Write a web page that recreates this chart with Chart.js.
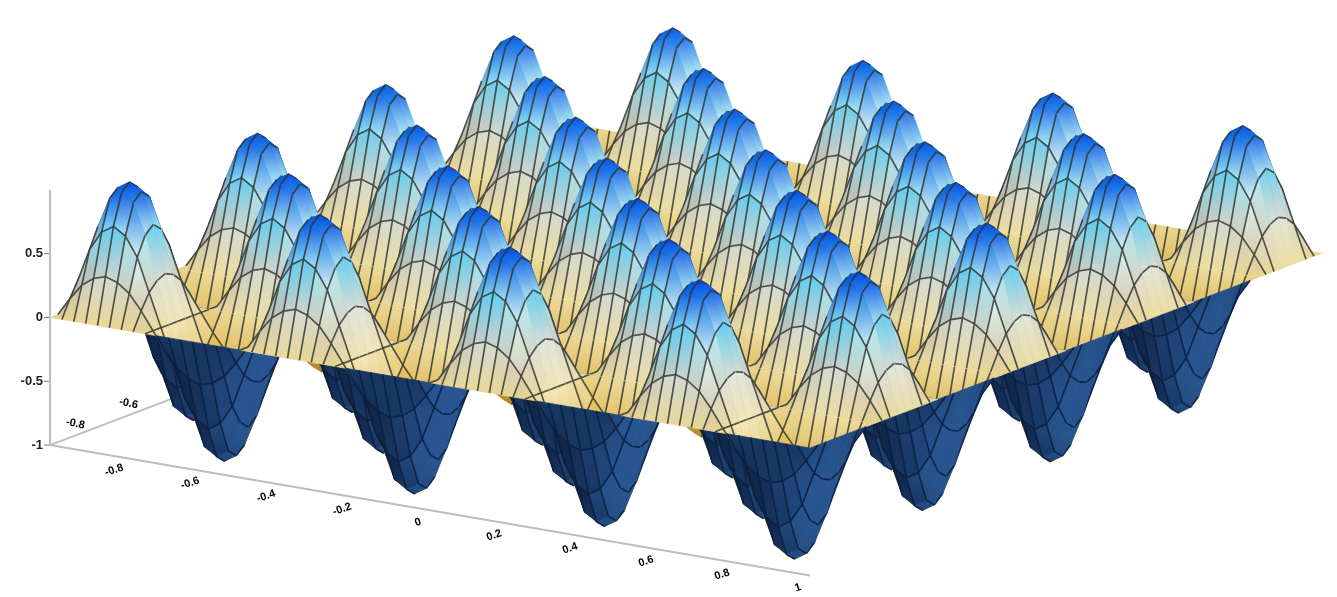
<!DOCTYPE html>
<html>
<head>
<meta charset="utf-8">
<title>Surface</title>
<script src="https://cdn.jsdelivr.net/npm/chart.js@4"></script>
<style>
    html, body { margin: 0; padding: 0; background: #fff; }
    #wrap { width: 1337px; height: 597px; }
    #surfaceChart { filter: blur(0.7px); }
</style>
</head>
<body>
<div id="wrap"><canvas id="surfaceChart" width="1337" height="597"></canvas></div>
<script>
// height of one hump (9 x 9 samples across one cell)
const humpHeights = [
    [0, 0, 0, 0, 0, 0, 0, 0, 0],
    [0, 0.14, 0.26, 0.33, 0.36, 0.33, 0.26, 0.14, 0],
    [0, 0.26, 0.52, 0.67, 0.73, 0.67, 0.52, 0.26, 0],
    [0, 0.33, 0.67, 0.91, 0.97, 0.91, 0.67, 0.33, 0],
    [0, 0.36, 0.73, 0.97, 1.03, 0.97, 0.73, 0.36, 0],
    [0, 0.33, 0.67, 0.91, 0.97, 0.91, 0.67, 0.33, 0],
    [0, 0.26, 0.52, 0.67, 0.73, 0.67, 0.52, 0.26, 0],
    [0, 0.14, 0.26, 0.33, 0.36, 0.33, 0.26, 0.14, 0],
    [0, 0, 0, 0, 0, 0, 0, 0, 0]
];
// which cells are peaks (1) and which are pits (-1)
const cellSigns = [
    [1, -1, 1, -1, 1, -1, 1, -1],
    [-1, 1, -1, 1, -1, 1, -1, 1],
    [1, -1, 1, -1, 1, -1, 1, -1],
    [-1, 1, -1, 1, -1, 1, -1, 1],
    [1, -1, 1, -1, 1, -1, 1, -1],
    [-1, 1, -1, 1, -1, 1, -1, 1],
    [1, -1, 1, -1, 1, -1, 1, -1],
    [-1, 1, -1, 1, -1, 1, -1, 1]
];
// sub steps inside a cell that carry an arch line
const archSteps = [1, 2, 6, 7];
const zTicks = [-1, -0.5, 0, 0.5];
const frontAxisLabels = ["-0.8", "-0.6", "-0.4", "-0.2", "0", "0.2", "0.4", "0.6", "0.8", "1"];
const sideAxisLabels = ["-0.8", "-0.6"];

const SUB = 8;
const CELLS = 8;
const N = CELLS * SUB;
// view used to lay the surface on the page: one cell along each floor axis, one unit of z
const ORIGIN = { x: 50, y: 318 };
const STEP_U = { x: 64, y: -25 };
const STEP_V = { x: 95, y: 16.75 };
const Z_PX = 131;

function heightAt(i, j) {
    // i, j in sub steps, shared borders are all 0 anyway
    i = Math.max(0, Math.min(N, i));
    j = Math.max(0, Math.min(N, j));
    const ci = Math.min(Math.floor(i / SUB), CELLS - 1);
    const cj = Math.min(Math.floor(j / SUB), CELLS - 1);
    return cellSigns[ci][cj] * humpHeights[i - ci * SUB][j - cj * SUB];
}

function project(i, j, z) {
    const u = i / SUB, v = j / SUB;
    return {
        x: ORIGIN.x + u * STEP_U.x + v * STEP_V.x,
        y: (u * STEP_U.y + v * STEP_V.y) / -Z_PX + z
    };
}

// colours by height, top side of the sheet
const topRamp = [
    [-1.1, [170, 120, 20]],
    [-0.5, [205, 150, 25]],
    [-0.15, [222, 175, 50]],
    [-0.03, [228, 192, 80]],
    [0.0, [232, 212, 140]],
    [0.12, [207, 192, 152]],
    [0.3, [190, 190, 180]],
    [0.45, [215, 235, 238]],
    [0.6, [170, 230, 245]],
    [0.72, [90, 205, 242]],
    [0.85, [25, 150, 235]],
    [0.93, [10, 110, 235]],
    [1.0, [5, 70, 225]]
];

function mix(a, b, t) {
    return [a[0] + (b[0] - a[0]) * t, a[1] + (b[1] - a[1]) * t, a[2] + (b[2] - a[2]) * t];
}

function topColour(i, j) {
    const z = heightAt(i, j);
    let c = topRamp[topRamp.length - 1][1];
    for (let k = 1; k < topRamp.length; k++) {
        if (z <= topRamp[k][0]) {
            c = mix(topRamp[k - 1][1], topRamp[k][1], (z - topRamp[k - 1][0]) / (topRamp[k][0] - topRamp[k - 1][0]));
            break;
        }
    }
    const slopeV = (heightAt(i, j + 1) - heightAt(i, j - 1)) * SUB / 2;
    const slopeU = (heightAt(i + 1, j) - heightAt(i - 1, j)) * SUB / 2;
    // left flanks are shaded, flanks facing the front right are lit
    const light = -slopeV * 0.15 + slopeU * 0.07;
    if (light > 0) {
        c = mix(c, [255, 255, 240], Math.min(light * (z > 0.7 ? 0.3 : 1), 0.6));
    } else {
        c = mix(c, [60, 75, 85], Math.min(-light, 0.45));
    }
    return 'rgb(' + c.map(Math.round).join(',') + ')';
}

function underColour(i, j) {
    const slopeV = (heightAt(i, j + 1) - heightAt(i, j - 1)) * SUB / 2;
    const t = Math.max(0, Math.min(1, 0.5 + slopeV * 0.3));
    const c = mix([8, 24, 52], [40, 85, 145], t);
    return 'rgb(' + c.map(Math.round).join(',') + ')';
}

function pixelY(y) {
    return ORIGIN.y - y * Z_PX;
}

const surfaceDatasets = [];
const gradientCtx = document.getElementById('surfaceChart').getContext('2d');

// back to front: far rows first, left to right inside a row
for (let i = N - 1; i >= 0; i--) {
    for (let j = 0; j < N; j++) {
        const corners = [[i, j], [i + 1, j], [i + 1, j + 1], [i, j + 1]];
        const p = corners.map(function (c) { return project(c[0], c[1], heightAt(c[0], c[1])); });
        // screen winding tells which side of the sheet we look at
        let area = 0;
        for (let k = 0; k < 4; k++) {
            const q = p[(k + 1) % 4];
            area += p[k].x * q.y - q.x * p[k].y;
        }
        const under = area > 0;
        if (under && i > 3 * SUB && j < 5 * SUB) continue;

        // vertical gradient from the highest corner to the lowest one
        let hi = 0, lo = 0;
        for (let k = 1; k < 4; k++) {
            if (p[k].y > p[hi].y) hi = k;
            if (p[k].y < p[lo].y) lo = k;
        }
        const colourOf = under ? underColour : topColour;
        const fill = gradientCtx.createLinearGradient(0, pixelY(p[hi].y), 0, pixelY(p[lo].y) + 0.01);
        fill.addColorStop(0, colourOf(corners[hi][0], corners[hi][1]));
        fill.addColorStop(1, colourOf(corners[lo][0], corners[lo][1]));
        surfaceDatasets.push({
            data: [p[0], p[1], p[2], p[3], p[0]],
            backgroundColor: fill,
            borderColor: fill,
            borderWidth: 0.7,
            fill: 'shape'
        });

        // mesh: every step across v, a few arches across u
        const line = [];
        if (j > 0) line.push(p[0], p[1]);
        if (i + 1 < N && archSteps.indexOf((i + 1) % SUB) >= 0) {
            if (!line.length) line.push(p[1]);
            line.push(p[2]);
        }
        if (line.length) {
            surfaceDatasets.push({
                data: line,
                borderColor: under ? 'rgba(10,30,62,0.85)' : 'rgba(46,50,46,0.8)',
                borderWidth: 1.7,
                fill: false
            });
        }
    }
}

// z axis and floor axes (z value of floor is -1)
const axisDatasets = [
    { data: [project(0, 0, -1), project(0, 0, 1)], borderColor: '#bdbdbd', borderWidth: 2, fill: false },
    { data: [project(0, 0, -1), project(0, N, -1)], borderColor: '#bdbdbd', borderWidth: 2, fill: false },
    { data: [project(0, 0, -1), project(16, 0, -1)], borderColor: '#bdbdbd', borderWidth: 2, fill: false }
];
zTicks.forEach(function (t) {
    axisDatasets.push({ data: [{ x: 44, y: t }, { x: 50, y: t }], borderColor: '#777', borderWidth: 1, fill: false });
});

const axisLabelPlugin = {
    id: 'axisLabels',
    afterDraw: function (chart) {
        const c = chart.ctx;
        const sx = chart.scales.x, sy = chart.scales.y;
        c.save();
        c.fillStyle = '#000';
        c.font = 'bold 11px "Liberation Sans"';
        c.textAlign = 'center';
        c.textBaseline = 'middle';
        frontAxisLabels.forEach(function (label, k) {
            const p = project(0, (k + 1) * N / 10, -1);
            c.save();
            c.translate(sx.getPixelForValue(p.x) - 12, sy.getPixelForValue(p.y) + 12);
            c.rotate(-0.32);
            c.fillText(label, 0, 0);
            c.restore();
        });
        sideAxisLabels.forEach(function (label, k) {
            const p = project((k + 1) * 16 / 2.4, 0, -1);
            c.save();
            c.translate(sx.getPixelForValue(p.x) - 28, sy.getPixelForValue(p.y) - 1);
            c.rotate(0.2);
            c.fillText(label, 0, 0);
            c.restore();
        });
        c.restore();
    }
};

document.addEventListener("DOMContentLoaded", function () {
    const ctxSurface = document.getElementById('surfaceChart');
    // the first dataset is painted last, so the list goes front to back and the axes come last
    new Chart(ctxSurface, {
        type: 'scatter',
        data: { datasets: surfaceDatasets.slice().reverse().concat(axisDatasets) },
        options: {
            responsive: false,
            animation: false,
            events: [],
            parsing: false,
            normalized: true,
            showLine: true,
            layout: { padding: 0 },
            elements: { point: { radius: 0 }, line: { tension: 0 } },
            plugins: { legend: { display: false }, tooltip: { enabled: false }, title: { display: false } },
            scales: {
                x: { type: 'linear', min: 0, max: 1337, display: false },
                y: {
                    type: 'linear',
                    min: (318 - 597) / 131,
                    max: 318 / 131,
                    position: { x: 43 },
                    afterBuildTicks: function (axis) {
                        axis.ticks = zTicks.map(function (v) { return { value: v }; });
                    },
                    grid: { display: false },
                    border: { display: false },
                    ticks: {
                        color: '#222',
                        padding: 0,
                        font: { family: '"Liberation Sans"', size: 13, weight: 'bold' },
                        callback: function (v) { return String(v); }
                    }
                }
            }
        },
        plugins: [axisLabelPlugin]
    });
});
</script>
</body>
</html>
